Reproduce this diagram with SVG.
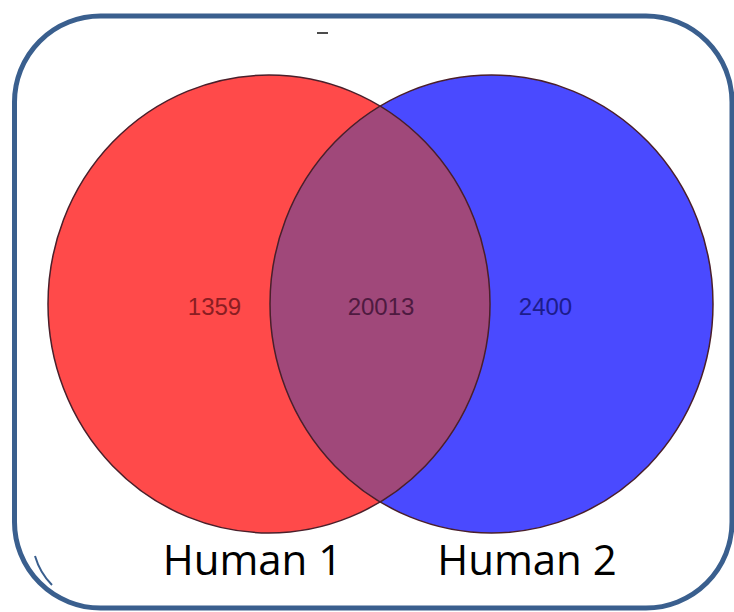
<svg xmlns="http://www.w3.org/2000/svg" width="734" height="612" viewBox="0 0 734 612">
  <style>
    .frame { fill: none; stroke: #3a5f8e; stroke-width: 5; }
    .set { stroke: #4a1f2a; stroke-width: 1.5; }
    .count { font-family: "Liberation Sans", Arial, sans-serif; font-size: 24px; text-anchor: middle; }
    .label { font-family: "Open Sans", "Liberation Sans", sans-serif; font-size: 42px; fill: #000; text-anchor: middle; }
  </style>
  <defs>
    <clipPath id="clip-red">
      <ellipse cx="269" cy="304" rx="221" ry="229"/>
    </clipPath>
  </defs>

  <rect width="734" height="612" fill="#ffffff"/>

  <!-- rounded panel frame -->
  <g id="frame">
    <rect class="frame" x="14.5" y="16" width="717.5" height="592" rx="86" ry="86"/>
    <path d="M35,556 Q40,573 52,585" fill="none" stroke="#3a5f8e" stroke-width="2"/>
    <line x1="317" y1="33" x2="328" y2="33" stroke="#111" stroke-width="1.5"/>
  </g>

  <!-- set Human 1 -->
  <g id="set-human1">
    <ellipse cx="269" cy="304" rx="221" ry="229" fill="#ff4a4a"/>
  </g>

  <!-- set Human 2 -->
  <g id="set-human2">
    <ellipse cx="491.5" cy="304" rx="221.5" ry="229" fill="#4a4aff"/>
  </g>

  <!-- overlap region -->
  <g id="overlap">
    <ellipse cx="491.5" cy="304" rx="221.5" ry="229" fill="#a0487a" clip-path="url(#clip-red)"/>
    <ellipse class="set" cx="269" cy="304" rx="221" ry="229" fill="none"/>
    <ellipse class="set" cx="491.5" cy="304" rx="221.5" ry="229" fill="none" stroke="#1e1e6a"/>
  </g>

  <!-- counts -->
  <g id="counts">
    <text class="count" x="214.5" y="315" fill="#8a1d22">1359</text>
    <text class="count" x="381" y="315" fill="#4e1a40">20013</text>
    <text class="count" x="545.5" y="315" fill="#1c1c8c">2400</text>
  </g>

  <!-- set labels -->
  <g id="labels">
    <text class="label" x="252.5" y="575">Human 1</text>
    <text class="label" x="527" y="575">Human 2</text>
  </g>
</svg>
